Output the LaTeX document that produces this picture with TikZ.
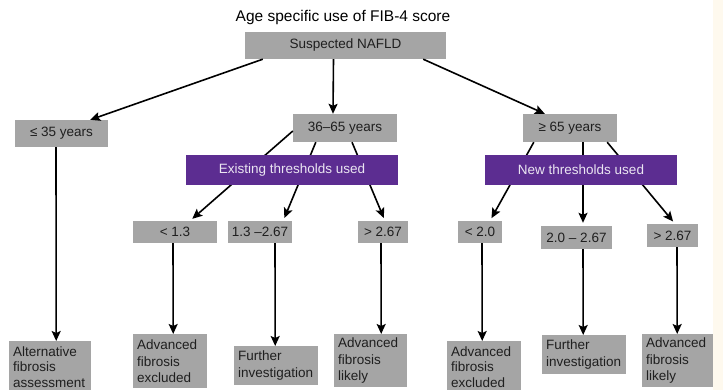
\documentclass[tikz,border=0pt]{standalone}
\usepackage{fontspec}
\setmainfont{Liberation Sans}
\usetikzlibrary{arrows.meta,positioning}
\definecolor{boxgray}{RGB}{165,165,165}
\definecolor{rulepurple}{RGB}{92,45,145}
\definecolor{edgecream}{RGB}{254,249,238}

\begin{document}
\begin{tikzpicture}[
  x=1pt, y=-1pt,
  agebox/.style={fill=boxgray, inner sep=0pt, minimum height=27pt, text=black!88, font=\fontsize{13.5}{16}\selectfont},
  cutbox/.style={fill=boxgray, inner sep=0pt, minimum height=22pt, text=black!88, font=\fontsize{13.5}{16}\selectfont},
  outcome/.style={fill=boxgray, anchor=north west, align=left, inner xsep=4pt, inner ysep=0pt, text width=#1, text=black!88, font=\fontsize{13.5}{16.5}\selectfont},
  rulebar/.style={fill=rulepurple, inner sep=0pt, minimum height=30pt, text=white!88!rulepurple, font=\fontsize{13.5}{16}\selectfont},
  arrow/.style={-{Stealth[length=10pt,width=9pt,inset=2pt]}, line width=1.6pt}
]
  \clip (0,0) rectangle (723,390);
  \fill[white] (0,0) rectangle (723,390);
  \fill[edgecream] (713,0) rectangle (723,390);

  \node (title) at (343,17) [font=\fontsize{15.5}{18}\selectfont] {Age specific use of FIB-4 score};
  \node[agebox, minimum width=201pt] (nafld) at (345.5,45.5) {Suspected NAFLD};

  \node[agebox, minimum width=93pt] (young) at (61.5,133.5) {≤ 35 years};
  \node[agebox, minimum width=104pt, minimum height=28pt] (middle) at (345,128) {36–65 years};
  \node[agebox, minimum width=94pt, minimum height=28pt] (older) at (570,128) {≥ 65 years};

  \node[cutbox, minimum width=84pt] (low1) at (175,232) {< 1.3};
  \node[cutbox, minimum width=64pt] (grey1) at (260,232) {1.3 –2.67};
  \node[cutbox, minimum width=50pt] (high1) at (383,232) {> 2.67};
  \node[cutbox, minimum width=44pt] (low2) at (480,232) {< 2.0};
  \node[cutbox, minimum width=71pt, minimum height=23pt] (grey2) at (576.5,237.5) {2.0 – 2.67};
  \node[cutbox, minimum width=51pt, minimum height=23pt] (high2) at (672.5,235.5) {> 2.67};

  \node[outcome=74pt, minimum height=51pt, font=\fontsize{13.5}{15.5}\selectfont] (alt) at (9,341) {Alternative\\fibrosis\\assessment};
  \node[outcome=66pt, minimum height=54pt] (excl1) at (133,334) {Advanced\\fibrosis\\excluded};
  \node[outcome=76pt, minimum height=39pt] (further1) at (234,346) {Further\\investigation};
  \node[outcome=65pt, minimum height=53pt] (likely1) at (334,334) {Advanced\\fibrosis\\likely};
  \node[outcome=66pt, minimum height=51pt, font=\fontsize{13.5}{15.5}\selectfont] (excl2) at (447,341) {Advanced\\fibrosis\\excluded};
  \node[outcome=76pt, minimum height=39pt] (further2) at (542,335) {Further\\investigation};
  \node[outcome=63pt, minimum height=53pt] (likely2) at (642,334) {Advanced\\fibrosis\\likely};

  \draw[arrow] ([xshift=18pt]nafld.south west) -- ([xshift=-18pt]young.north east);
  \draw[arrow] ([xshift=-12pt]nafld.south) -- ([xshift=-12pt]middle.north);
  \draw[arrow] ([xshift=-23pt]nafld.south east) -- ([xshift=22pt]older.north west);

  \draw[arrow, shorten >=3pt] ([yshift=-3pt]middle.west) -- ([xshift=15pt]low1.north);
  \draw[arrow, shorten >=3pt] ([xshift=23pt]middle.south west) -- ([xshift=-9pt]grey1.north east);
  \draw[arrow, shorten >=3pt] ([xshift=7pt]middle.south) -- ([xshift=2pt]high1.north);
  \draw[arrow, shorten >=3pt] ([xshift=11pt]older.south west) -- ([xshift=10pt]low2.north);
  \draw[arrow, shorten >=3pt] ([xshift=13pt]older.south) -- ([xshift=6.5pt]grey2.north);
  \draw[arrow, shorten >=3pt] ([xshift=-10pt]older.south east) -- ([xshift=2.5pt]high2.north);

  \draw[arrow] ([xshift=-5.5pt]young.south) -- ([xshift=6pt]alt.north);
  \draw[arrow] ([xshift=-2pt]low1.south) -- ([xshift=3pt]excl1.north);
  \draw[arrow] ([xshift=15pt]grey1.south) -- ([xshift=-1pt]further1.north);
  \draw[arrow] ([xshift=-2pt]high1.south) -- ([xshift=10.5pt]likely1.north);
  \draw[arrow] ([xshift=2pt]low2.south) -- ([xshift=-2pt]excl2.north);
  \draw[arrow] ([xshift=6.5pt]grey2.south) -- ([xshift=-1pt]further2.north);
  \draw[arrow] ([xshift=4.5pt]high2.south) -- ([xshift=-0.5pt]likely2.north);

  % bars go over the lines
  \node[rulebar, minimum width=212pt] (oldrule) at (292,170) {Existing thresholds used};
  \node[rulebar, minimum width=192pt] (newrule) at (581,170) {New thresholds used};
\end{tikzpicture}
\end{document}
